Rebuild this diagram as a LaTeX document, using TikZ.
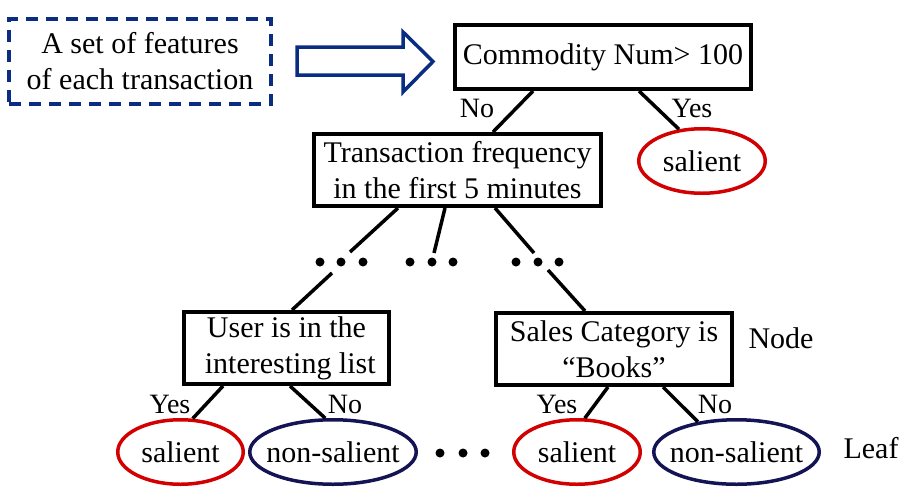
\documentclass[tikz,border=0pt]{standalone}
\usepackage{fontspec}
\setmainfont{Liberation Serif}
\usetikzlibrary{shapes.geometric}
\definecolor{fblue}{RGB}{10,45,130}
\definecolor{lred}{RGB}{210,0,0}
\definecolor{navy}{RGB}{20,20,85}
\begin{document}
\begin{tikzpicture}[x=1pt,y=-1pt,
  font=\fontsize{30}{36}\selectfont,
  box/.style={draw, line width=4pt, rectangle, inner sep=0pt, align=center},
  leafnode/.style={draw, ellipse, line width=3.5pt, inner sep=0pt, minimum height=64.5pt},
  edge/.style={line width=3.5pt},
  lab/.style={anchor=base, inner sep=0pt, font=\fontsize{28}{34}\selectfont},
  side/.style={anchor=base, inner sep=0pt},
  dotnode/.style={circle, fill, inner sep=0pt, minimum size=9pt}]
\useasboundingbox (0,0) rectangle (912,498);

% input features box and arrow
\node[draw=fblue, line width=3.5pt, dash pattern=on 12pt off 8pt, rectangle, inner sep=0pt,
      minimum width=262pt, minimum height=85pt, align=center] (feat) at (140,61.5)
      {A set of features\\of each transaction};
\draw[fblue, line width=3.5pt, fill=white, line join=miter]
  (297,47) -- (403,47) -- (403,32) -- (433,61.5) -- (403,92) -- (403,75) -- (297,75) -- cycle;

% decision nodes
\node[box, minimum width=296pt, minimum height=64pt] (root) at (603,57) {Commodity Num> 100};
\node[box, minimum width=287pt, minimum height=72pt] (trans) at (457.5,170)
  {Transaction frequency\\in the first 5 minutes};
\node[box, minimum width=205pt, minimum height=72pt] (user) at (286.5,348)
  {User is in the\\\ interesting list};
\node[box, minimum width=236pt, minimum height=72pt] (sales) at (614,349)
  {Sales Category is\\“Books”};

% leaves
\node[leafnode, draw=lred, minimum width=126.5pt] (sal1) at (702,161) {\makebox[0pt]{salient}};
\node[leafnode, draw=lred, minimum width=125.5pt] (sal2) at (180.5,452) {\makebox[0pt]{salient}};
\node[leafnode, draw=navy, minimum width=166.5pt] (non1) at (333,452) {\makebox[0pt]{non-salient}};
\node[leafnode, draw=lred, minimum width=126.5pt] (sal3) at (577,452) {\makebox[0pt]{salient}};
\node[leafnode, draw=navy, minimum width=165.5pt] (non2) at (736.5,452) {\makebox[0pt]{non-salient}};

% dots
\foreach \n/\x/\y in {d1a/320/262, d1b/341/262, d1c/363/262,
                      d2a/410/262, d2b/432/262, d2c/453/262,
                      d3a/516/262, d3b/538/262, d3c/559/262,
                      d4a/440/453, d4b/463/453, d4c/485/453}
  \node[dotnode] (\n) at (\x,\y) {};

% free ends near the dots
\coordinate (e1) at (350,252);
\coordinate (e2) at (434,253);
\coordinate (e3) at (534,253);
\coordinate (e4) at (332,273);
\coordinate (e5) at (548,270);

% connectors
\draw[edge] ([xshift=80pt]root.south west) -- ([xshift=181pt]trans.north west);
\draw[edge] ([xshift=186pt]root.south west) -- (sal1.126);
\draw[edge] ([xshift=86pt]trans.south west) -- (e1);
\draw[edge] ([xshift=133pt]trans.south west) -- (e2);
\draw[edge] ([xshift=183pt]trans.south west) -- (e3);
\draw[edge] (e4) -- ([xshift=110pt]user.north west);
\draw[edge] (e5) -- ([xshift=91pt]sales.north west);
\draw[edge] ([xshift=41pt]user.south west) -- (sal2.70);
\draw[edge] ([xshift=108pt]user.south west) -- (non1.103);
\draw[edge] ([xshift=114pt]sales.south west) -- (sal3.77);
\draw[edge] ([xshift=169pt]sales.south west) -- (non2.142);

% edge labels
\node[lab] (l1) at (477,117) {No};
\node[lab] (l2) at (692,117) {Yes};
\node[lab] (l3) at (170,413) {Yes};
\node[lab] (l4) at (345,413) {No};
\node[lab] (l5) at (557,413) {Yes};
\node[lab] (l6) at (715,413) {No};

% side labels
\node[side] (nodelab) at (781,348) {Node};
\node[side] (leaflab) at (871,458) {Leaf};
\end{tikzpicture}
\end{document}
